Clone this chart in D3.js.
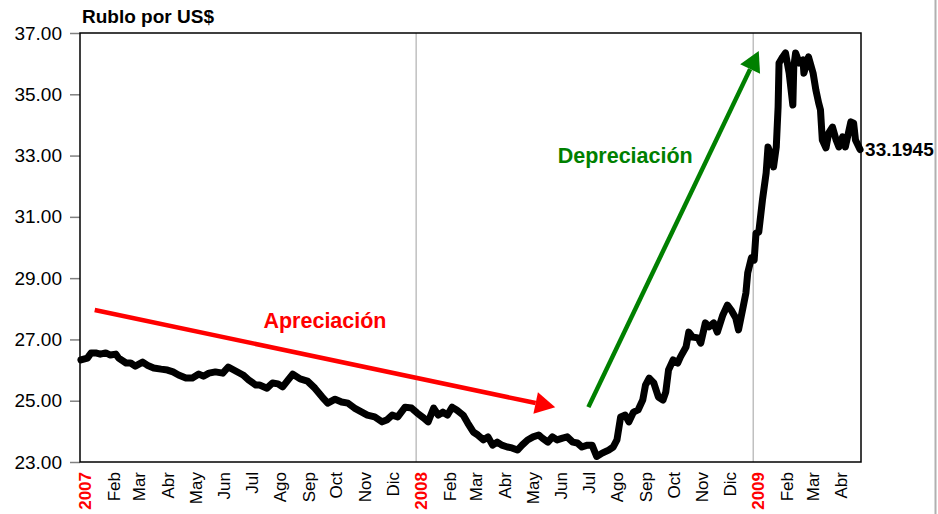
<!DOCTYPE html>
<html lang="es">
<head>
<meta charset="UTF-8">
<title>Rublo por US$</title>
<script src="https://d3js.org/d3.v7.min.js"></script>
<style>
  body { margin: 0; padding: 0; background: #fff; }
  svg { display: block; font-family: "Liberation Sans", Arial, sans-serif; }
</style>
</head>
<body>
<script>
// Datos: tipo de cambio rublo/dólar
const dates = [
  "2007-01-02","2007-01-09","2007-01-13","2007-01-18","2007-01-23","2007-01-29","2007-02-03","2007-02-09",
  "2007-02-12","2007-02-20","2007-02-25","2007-03-02","2007-03-10","2007-03-15","2007-03-22","2007-03-30",
  "2007-04-06","2007-04-12","2007-04-18","2007-04-26","2007-05-03","2007-05-10","2007-05-15","2007-05-21",
  "2007-05-28","2007-06-05","2007-06-11","2007-06-19","2007-06-27","2007-07-03","2007-07-11","2007-07-15",
  "2007-07-23","2007-07-29","2007-08-04","2007-08-09","2007-08-15","2007-08-20","2007-08-28","2007-09-05",
  "2007-09-13","2007-09-21","2007-09-27","2007-10-05","2007-10-12","2007-10-19","2007-10-26","2007-11-03",
  "2007-11-09","2007-11-17","2007-11-25","2007-11-30","2007-12-06","2007-12-12","2007-12-20","2007-12-27",
  "2008-01-02","2008-01-09","2008-01-14","2008-01-20","2008-01-25","2008-01-30","2008-02-04","2008-02-09",
  "2008-02-14","2008-02-21","2008-02-26","2008-03-03","2008-03-08","2008-03-14","2008-03-19","2008-03-24",
  "2008-03-29","2008-04-03","2008-04-09","2008-04-14","2008-04-20","2008-04-25","2008-05-01","2008-05-07",
  "2008-05-13","2008-05-17","2008-05-23","2008-05-28","2008-06-02","2008-06-08","2008-06-13","2008-06-19",
  "2008-06-24","2008-06-29","2008-07-05","2008-07-10","2008-07-15","2008-07-21","2008-07-28","2008-08-02",
  "2008-08-06","2008-08-10","2008-08-15","2008-08-19","2008-08-24","2008-08-29","2008-09-03","2008-09-06",
  "2008-09-10","2008-09-15","2008-09-20","2008-09-25","2008-09-28","2008-10-01","2008-10-06","2008-10-11",
  "2008-10-14","2008-10-20","2008-10-23","2008-10-27","2008-11-02","2008-11-05","2008-11-10","2008-11-14",
  "2008-11-19","2008-11-23","2008-11-29","2008-12-04","2008-12-08","2008-12-13","2008-12-16","2008-12-21",
  "2008-12-24","2008-12-26","2008-12-30","2009-01-02","2009-01-04","2009-01-07","2009-01-11","2009-01-15",
  "2009-01-17","2009-01-20","2009-01-23","2009-01-26","2009-01-28","2009-01-29","2009-02-02","2009-02-05",
  "2009-02-09","2009-02-13","2009-02-14","2009-02-16","2009-02-20","2009-02-24","2009-02-25","2009-03-01",
  "2009-03-02","2009-03-07","2009-03-10","2009-03-13","2009-03-15","2009-03-17","2009-03-21","2009-03-24",
  "2009-03-28","2009-04-01","2009-04-04","2009-04-08","2009-04-11","2009-04-17","2009-04-20","2009-04-22",
  "2009-04-27"
];
const rates = [
  26.33,26.39,26.56,26.56,26.52,26.56,26.49,26.52,
  26.39,26.23,26.23,26.13,26.26,26.16,26.07,26.03,
  26.00,25.94,25.84,25.74,25.74,25.87,25.80,25.90,
  25.94,25.90,26.10,25.97,25.84,25.68,25.51,25.51,
  25.41,25.58,25.55,25.45,25.68,25.87,25.71,25.64,
  25.41,25.12,24.92,25.05,24.96,24.92,24.76,24.63,
  24.53,24.47,24.31,24.37,24.53,24.47,24.79,24.76,
  24.60,24.44,24.31,24.76,24.53,24.63,24.53,24.79,
  24.70,24.53,24.27,23.98,23.88,23.72,23.82,23.55,
  23.65,23.55,23.49,23.46,23.39,23.55,23.72,23.82,
  23.88,23.78,23.65,23.82,23.72,23.78,23.82,23.65,
  23.62,23.49,23.55,23.55,23.18,23.29,23.39,23.49,
  23.72,24.47,24.53,24.31,24.63,24.70,25.02,25.51,
  25.74,25.58,25.12,25.02,25.28,26.00,26.33,26.23,
  26.43,26.75,27.24,27.08,27.05,26.88,27.54,27.41,
  27.54,27.24,27.80,28.12,27.96,27.70,27.31,28.06,
  28.51,29.17,29.66,29.59,30.47,30.50,31.55,32.43,
  33.28,33.02,32.63,33.28,34.59,36.02,36.22,36.35,
  35.69,34.65,35.89,36.35,36.02,36.12,35.69,36.12,
  36.22,35.69,35.14,34.72,34.49,33.51,33.25,33.74,
  33.93,33.51,33.28,33.61,33.28,34.10,34.06,33.51,
  33.1945
];
const lastLabel = "33.1945";

const yTicks = [23, 25, 27, 29, 31, 33, 35, 37];
const monthNames = ["", "Feb", "Mar", "Abr", "May", "Jun", "Jul", "Ago", "Sep", "Oct", "Nov", "Dic"];

// Flechas de anotación: [inicio, punta] en fecha/valor
const arrowDates = [["2007-01-17", "2008-05-31"], ["2008-07-06", "2009-01-07"]];
const arrowValues = [[27.96, 24.79], [24.79, 36.41]];
const arrowLabels = ["Apreciación", "Depreciación"];
const labelDates = ["2007-09-24", "2008-08-15"];
const labelValues = [27.62, 33.0];
const arrowColors = ["#ff0000", "#008000"];

const width = 938, height = 514;
const plotLeft = 80, plotRight = 861, plotTop = 33, plotBottom = 462;

const parse = d3.timeParse("%Y-%m-%d");
const data = dates.map((d, i) => ({ date: parse(d), value: rates[i] }));

const x = d3.scaleTime()
  .domain([parse("2007-01-01"), parse("2009-04-28")])
  .range([plotLeft, plotRight]);
const y = d3.scaleLinear().domain([23, 37]).range([plotBottom, plotTop]);

const svg = d3.select("body").append("svg")
  .attr("width", width)
  .attr("height", height);

// Líneas verticales de año
const years = d3.timeYear.range(parse("2008-01-01"), parse("2009-04-28"));
svg.append("g").selectAll("line")
  .data(years).enter().append("line")
  .attr("x1", d => x(d)).attr("x2", d => x(d))
  .attr("y1", plotTop).attr("y2", plotBottom)
  .attr("stroke", "#c0c0c0").attr("stroke-width", 1.5);

// Eje Y
const yAxis = svg.append("g")
  .attr("transform", `translate(${plotLeft},0)`)
  .call(d3.axisLeft(y).tickValues(yTicks).tickFormat(d3.format(".2f")).tickSize(10).tickPadding(8));
yAxis.select(".domain").remove();
yAxis.selectAll(".tick line").attr("stroke", "#808080").attr("stroke-width", 1.5);
yAxis.selectAll(".tick text")
  .attr("font-size", "19px")
  .attr("fill", "#000")
  .attr("font-family", "'Liberation Sans', Arial, sans-serif");

// Marco del área de trazado
svg.append("rect")
  .attr("x", plotLeft).attr("y", plotTop)
  .attr("width", plotRight - plotLeft).attr("height", plotBottom - plotTop)
  .attr("fill", "none").attr("stroke", "#000").attr("stroke-width", 1.5);

// Etiquetas del eje X (meses)
const months = d3.timeMonth.range(parse("2007-01-01"), parse("2009-04-28"));
svg.append("g").selectAll("text")
  .data(months).enter().append("text")
  .attr("transform", d => `translate(${x(d) + 11},${plotBottom + 10}) rotate(-90)`)
  .attr("text-anchor", "end")
  .attr("font-size", "17px")
  .attr("font-weight", d => d.getMonth() === 0 ? "bold" : "normal")
  .attr("fill", d => d.getMonth() === 0 ? "#ff0000" : "#000")
  .text(d => d.getMonth() === 0 ? d.getFullYear() : monthNames[d.getMonth()]);

// Serie
const line = d3.line().x(d => x(d.date)).y(d => y(d.value));
svg.append("path")
  .datum(data)
  .attr("d", line)
  .attr("fill", "none")
  .attr("stroke", "#000")
  .attr("stroke-width", 7)
  .attr("stroke-linejoin", "round")
  .attr("stroke-linecap", "round");

// Último valor
const last = data[data.length - 1];
svg.append("text")
  .attr("x", x(last.date) + 5)
  .attr("y", y(last.value))
  .attr("dy", "0.35em")
  .attr("font-size", "19px")
  .attr("font-weight", "bold")
  .text(lastLabel);

// Flechas
arrowDates.forEach((pair, i) => {
  const x0 = x(parse(pair[0])), y0 = y(arrowValues[i][0]);
  const x1 = x(parse(pair[1])), y1 = y(arrowValues[i][1]);
  const ang = Math.atan2(y1 - y0, x1 - x0);
  const headLen = 20, headW = 11;
  const bx = x1 - headLen * Math.cos(ang), by = y1 - headLen * Math.sin(ang);
  svg.append("line")
    .attr("x1", x0).attr("y1", y0).attr("x2", bx).attr("y2", by)
    .attr("stroke", arrowColors[i]).attr("stroke-width", 4.5);
  const px = -Math.sin(ang), py = Math.cos(ang);
  svg.append("polygon")
    .attr("points", [[x1, y1], [bx + px * headW, by + py * headW], [bx - px * headW, by - py * headW]].map(p => p.join(",")).join(" "))
    .attr("fill", arrowColors[i]);
  svg.append("text")
    .attr("x", x(parse(labelDates[i])))
    .attr("y", y(labelValues[i]))
    .attr("dy", "0.35em")
    .attr("text-anchor", "middle")
    .attr("font-size", "21.5px")
    .attr("font-weight", "bold")
    .attr("fill", arrowColors[i])
    .text(arrowLabels[i]);
});

// Título
svg.append("text")
  .attr("x", plotLeft + 2).attr("y", 23)
  .attr("font-size", "19px")
  .attr("font-weight", "bold")
  .text("Rublo por US$");

// Borde gris a la derecha
svg.append("line")
  .attr("x1", 935.5).attr("x2", 935.5).attr("y1", 0).attr("y2", height)
  .attr("stroke", "#b0b0b0").attr("stroke-width", 2);
</script>
</body>
</html>
